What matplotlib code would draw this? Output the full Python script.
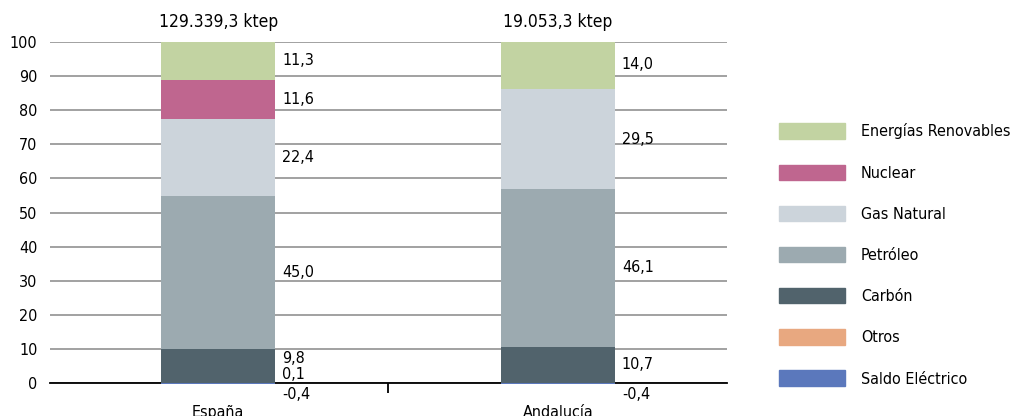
import numpy as np
import matplotlib.pyplot as plt
from matplotlib.patches import Patch

plt.rcParams['font.family'] = ['DejaVu Sans']
plt.rcParams['font.stretch'] = 'condensed'

regions = ['España', 'Andalucía']
totals = ['129.339,3 ktep', '19.053,3 ktep']
sources = ['Saldo Eléctrico', 'Otros', 'Carbón', 'Petróleo', 'Gas Natural', 'Nuclear', 'Energías Renovables']
colors = ['#5B78BC', '#E8A880', '#51636C', '#9CAAB0', '#CCD4DB', '#BF668F', '#C2D3A2']

# % share per source, per region (same order as sources)
espana = [-0.4, 0.1, 9.8, 45.0, 22.4, 11.6, 11.3]
andalucia = [-0.4, 0.0, 10.7, 46.1, 29.5, 0.0, 14.0]
values = [espana, andalucia]

fig = plt.figure(figsize=(10.11, 4.16), dpi=100)
ax = fig.add_axes([50 / 1011, 33 / 416, 677 / 1011, 341 / 416])

x = np.arange(len(regions))
width = 0.335
for i, vals in enumerate(values):
    bottom = 0.0
    for j, v in enumerate(vals):
        if v < 0:
            ax.bar(x[i], v, width, bottom=0, color=colors[j], clip_on=False, zorder=3)
            ax.text(x[i] + width / 2 + 0.02, -3.5, f'{v:.1f}'.replace('.', ','),
                    va='center', ha='left', fontsize=11.5, clip_on=False)
            continue
        if v == 0:
            continue
        ax.bar(x[i], v, width, bottom=bottom, color=colors[j], zorder=3)
        ly = bottom + v / 2
        # small segments at the base get their labels nudged apart
        if sources[j] == 'Otros':
            ly = bottom + 2.5
        elif sources[j] == 'Carbón' and vals[1] > 0:
            ly = bottom + v * 0.72
        ax.text(x[i] + width / 2 + 0.02, ly, f'{v:.1f}'.replace('.', ','),
                va='center', ha='left', fontsize=11.5)
        bottom += v
    ax.text(x[i], 105.8, totals[i], ha='center', va='center', fontsize=12.5, clip_on=False)

ax.set_xlim(-0.495, 1.497)
ax.set_ylim(0, 100)
ax.set_yticks(range(0, 101, 10))
ax.yaxis.grid(True, color='#9a9a9a', linewidth=1.3, zorder=0)
ax.set_axisbelow(True)
ax.tick_params(axis='y', length=0, labelsize=11.5, pad=9)
ax.set_xticks(x)
ax.set_xticklabels(regions)
ax.tick_params(axis='x', length=0, labelsize=11.5, pad=16)
ax.set_xticks([0.5], minor=True)
ax.tick_params(axis='x', which='minor', length=7, width=1.3, color='black')
for s in ['left', 'right', 'top']:
    ax.spines[s].set_visible(False)
ax.spines['bottom'].set_linewidth(1.3)
ax.spines['bottom'].set_zorder(2.5)

handles = [Patch(color=c, label=s) for s, c in zip(sources, colors)][::-1]
fig.legend(handles=handles, loc='upper left', bbox_to_anchor=(765 / 1011, 1 - 109 / 416),
           frameon=False, fontsize=11.5, handlelength=4.1, handleheight=1.1,
           labelspacing=1.57, handletextpad=1.0)

fig.savefig('out.png', dpi=100)
